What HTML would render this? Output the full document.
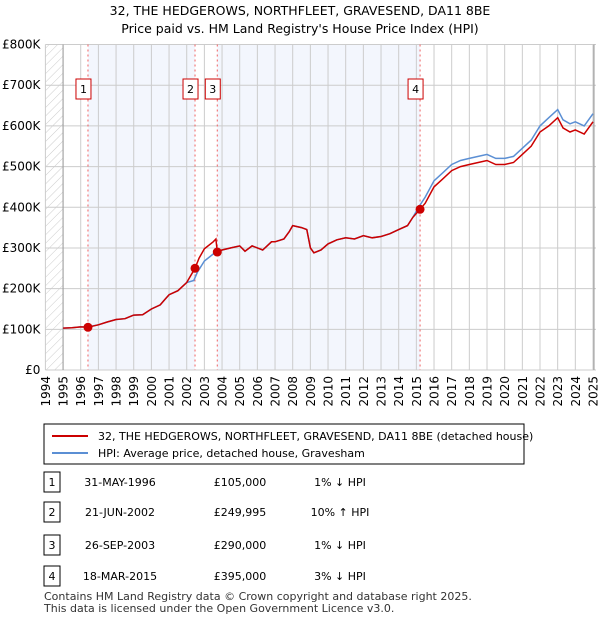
<!DOCTYPE html>
<html><head><meta charset="utf-8"><style>
body{margin:0;width:600px;height:620px;background:#fff;font-family:"Liberation Sans",sans-serif;overflow:hidden}
svg text{font-family:"DejaVu Sans","Liberation Sans",sans-serif}
</style></head><body>
<svg id="c" width="600" height="620" xmlns="http://www.w3.org/2000/svg">
<defs><pattern id="h" width="6" height="6" patternUnits="userSpaceOnUse" patternTransform="rotate(45)"><line x1="0" y1="0" x2="0" y2="6" stroke="#ccc" stroke-width="1"/></pattern></defs>
<text x="300" y="15" text-anchor="middle" font-size="12.5" fill="#000">32, THE HEDGEROWS, NORTHFLEET, GRAVESEND, DA11 8BE</text>
<text x="300" y="33" text-anchor="middle" font-size="12.5" fill="#000">Price paid vs. HM Land Registry's House Price Index (HPI)</text>
<g id="plot"></g>
<rect x="44" y="424" width="480" height="40" fill="#fff" stroke="#000"/>
<line x1="52" y1="436" x2="88" y2="436" stroke="#cc0000" stroke-width="2"/>
<text x="98" y="440" font-size="11">32, THE HEDGEROWS, NORTHFLEET, GRAVESEND, DA11 8BE (detached house)</text>
<line x1="52" y1="453" x2="88" y2="453" stroke="#5b8fd4" stroke-width="2"/>
<text x="98" y="457" font-size="11">HPI: Average price, detached house, Gravesham</text>
<g id="tbl" font-size="11"></g>
<text x="44" y="600" font-size="11" fill="#333">Contains HM Land Registry data © Crown copyright and database right 2025.</text>
<text x="44" y="612" font-size="11" fill="#333">This data is licensed under the Open Government Licence v3.0.</text>
</svg>
<script>
const hpiYears=[1995,1995.5,1996,1996.4,1997,1997.5,1998,1998.5,1999,1999.5,2000,2000.5,2000.8,2001,2001.5,2002,2002.4,2002.6,2003,2003.5,2003.7,2004,2004.5,2005,2005.3,2005.7,2006,2006.3,2006.8,2007,2007.5,2007.8,2008,2008.5,2008.8,2009,2009.2,2009.6,2010,2010.5,2011,2011.5,2012,2012.5,2013,2013.5,2014,2014.5,2014.8,2015.2,2015.5,2016,2016.5,2017,2017.5,2018,2018.5,2019,2019.5,2020,2020.5,2021,2021.5,2022,2022.5,2023,2023.3,2023.7,2024,2024.5,2025];
const hpiValues=[103,104,106,106,111,118,124,126,135,136,150,160,175,185,195,215,220,240,268,285,292,295,300,305,292,305,300,295,315,315,322,340,355,350,345,300,288,295,310,320,325,322,330,325,328,335,345,355,375,405,425,465,485,505,515,520,525,530,520,520,525,545,565,600,620,640,615,605,610,600,630];
const priceYears=[1995,1995.5,1996,1996.4,1997,1997.5,1998,1998.5,1999,1999.5,2000,2000.5,2000.8,2001,2001.5,2002,2002.47,2002.7,2003,2003.5,2003.65,2003.73,2004,2004.5,2005,2005.3,2005.7,2006,2006.3,2006.8,2007,2007.5,2007.8,2008,2008.5,2008.8,2009,2009.2,2009.6,2010,2010.5,2011,2011.5,2012,2012.5,2013,2013.5,2014,2014.5,2014.8,2015.21,2015.5,2016,2016.5,2017,2017.5,2018,2018.5,2019,2019.5,2020,2020.5,2021,2021.5,2022,2022.5,2023,2023.3,2023.7,2024,2024.5,2025];
const priceValues=[103,104,106,105,111,118,124,126,135,136,150,160,175,185,195,215,250,275,298,315,322,290,295,300,305,292,305,300,295,315,315,322,340,355,350,345,300,288,295,310,320,325,322,330,325,328,335,345,355,375,395,410,450,470,490,500,505,510,515,505,505,510,530,550,585,600,620,595,585,590,580,610];
const saleYears=[1996.41,2002.47,2003.73,2015.21];
const salePrices=[105,249.995,290,395];
const saleLabels=["1","2","3","4"];
const saleDates=["31-MAY-1996","21-JUN-2002","26-SEP-2003","18-MAR-2015"];
const salePriceText=["£105,000","£249,995","£290,000","£395,000"];
const saleHpiText=["1% ↓ HPI","10% ↑ HPI","1% ↓ HPI","3% ↓ HPI"];
const yTicks=[0,100,200,300,400,500,600,700,800];
const yTickLabels=["£0","£100K","£200K","£300K","£400K","£500K","£600K","£700K","£800K"];
const xTicks=[1994,1995,1996,1997,1998,1999,2000,2001,2002,2003,2004,2005,2006,2007,2008,2009,2010,2011,2012,2013,2014,2015,2016,2017,2018,2019,2020,2021,2022,2023,2024,2025];

const NS="http://www.w3.org/2000/svg";
const X0=45.4,X1=593,Y0=370,Y1=44.5;
const xs=y=>X0+(y-1994)*(X1-X0)/31;
const ys=v=>Y0-v*(Y0-Y1)/800;
const plot=document.getElementById('plot');
function mk(tag,attrs,parent){const e=document.createElementNS(NS,tag);for(const k in attrs)e.setAttribute(k,attrs[k]);(parent||plot).appendChild(e);return e;}

let r=mk('rect',{x:xs(1994),y:Y1,width:xs(1995)-xs(1994),height:Y0-Y1,fill:'url(#h)'});


const bands=[[0,1],[2,3]];
bands.forEach(b=>{const e=mk('rect',{x:xs(saleYears[b[0]]),y:Y1,width:xs(saleYears[b[1]])-xs(saleYears[b[0]]),height:Y0-Y1,fill:'#f3f6fd'});

});
xTicks.forEach(t=>{const e=mk('line',{x1:xs(t),x2:xs(t),y1:Y1,y2:Y0,stroke:'#ccc','stroke-width':1});


const tx=mk('text',{x:0,y:0,'font-size':12,'text-anchor':'end',transform:`translate(${xs(t)+4.5},${Y0+6}) rotate(-90)`});tx.textContent=t;

});
yTicks.forEach((t,i)=>{const e=mk('line',{x1:X0,x2:X1+3,y1:ys(t),y2:ys(t),stroke:'#ccc','stroke-width':1});


const tx=mk('text',{x:X0-5,y:ys(t)+4,'font-size':12,'text-anchor':'end'});tx.textContent=yTickLabels[i];

});
let ax=mk('line',{x1:xs(1995),x2:xs(1995),y1:Y1,y2:Y0,stroke:'#999'});


let ax2=mk('line',{x1:X1+1,x2:X1+1,y1:Y1,y2:Y0,stroke:'#999'});


saleYears.forEach((y,i)=>{const e=mk('line',{x1:xs(y),x2:xs(y),y1:Y1,y2:Y0,stroke:'#f06060','stroke-dasharray':'2,3'});


const bx=mk('rect',{x:xs(y)-12,y:79,width:15,height:20,fill:'#fff',stroke:'#cc0000'});


const t=mk('text',{x:xs(y)-4.5,y:93,'font-size':11,'text-anchor':'middle'});t.textContent=saleLabels[i];

});
const path=(xa,va)=>xa.map((x,i)=>(i?'L':'M')+xs(x).toFixed(1)+','+ys(va[i]).toFixed(1)).join('');
let h=mk('path',{d:path(hpiYears,hpiValues),fill:'none',stroke:'#5b8fd4','stroke-width':1.5});


let p=mk('path',{d:path(priceYears,priceValues),fill:'none',stroke:'#cc0000','stroke-width':1.5});


saleYears.forEach((y,i)=>{const c=mk('circle',{cx:xs(y),cy:ys(salePrices[i]),r:4.5,fill:'#cc0000'});

});

const tbl=document.getElementById('tbl');
const rowY=[482,512,545,576];
saleLabels.forEach((l,i)=>{const y=rowY[i];
const b=mk('rect',{x:44,y:y-10,width:16,height:20,fill:'#fff',stroke:'#000'},tbl);


const cells=[[52,l,'middle'],[120,saleDates[i],'middle'],[240,salePriceText[i],'middle'],[340,saleHpiText[i],'middle']];
cells.forEach((c,j)=>{const t=mk('text',{x:c[0],y:y+4,'text-anchor':c[2]},tbl);t.textContent=c[1];

});});
</script>
</body></html>
